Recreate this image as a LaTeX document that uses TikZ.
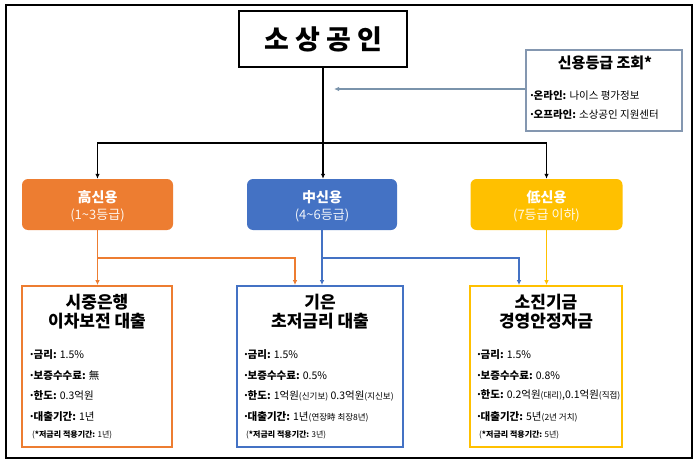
\documentclass[tikz,border=0pt]{standalone}
\usepackage{fontspec}
\setmainfont{Noto Sans CJK KR}
\usetikzlibrary{arrows.meta,calc}
\definecolor{cOr}{HTML}{ED7D31}
\definecolor{cBl}{HTML}{4472C4}
\definecolor{cYe}{HTML}{FFC000}
\definecolor{cGr}{HTML}{8497B0}
\definecolor{cAr}{HTML}{7A93AB}
\newcommand\tdot{\makebox[3.5pt][c]{·}}
\newcommand\itemlab[2]{{\bfseries\tdot#1:} #2}
\newcommand\sm[1]{{\fontsize{8.5}{9}\selectfont #1}}
\begin{document}
\begin{tikzpicture}[x=1pt,y=-1pt,
  tip/.style={-{Latex[length=5pt,width=4.5pt]}},
  blk/.style={line width=1.4pt},
  tier/.style={rounded corners=6pt, minimum height=51pt, inner sep=0pt, text=white, align=center},
  prog/.style={draw, line width=1.8pt, minimum height=161pt, inner sep=0pt},
  ptitle/.style={inner sep=0pt, align=center, font=\fontsize{17}{21}\selectfont\bfseries},
  txt/.style={anchor=west, inner sep=0pt, font=\fontsize{10.5}{12}\selectfont},
  note/.style={anchor=west, inner sep=0pt, font=\fontsize{8}{9}\selectfont}
]
\useasboundingbox (0,0) rectangle (700,465);
\fill[white] (0,0) rectangle (700,465);
\draw[line width=1.5pt] (6,5) rectangle (692,458);
\draw[line width=2.5pt] (6,458) -- (692,458) -- (692,6);

% title
\node[draw, line width=1.5pt, minimum width=168pt, minimum height=56pt, inner sep=0pt,
      font=\fontsize{27}{30}\selectfont\bfseries] (title) at (323,39) {소 상 공 인};

% credit lookup box
\node[draw=cGr, line width=1.5pt, minimum width=156pt, minimum height=81pt, inner sep=0pt] (credit) at (604,90.5) {};
\node[inner sep=0pt, font=\fontsize{15}{17}\selectfont\bfseries] (credT) at (605,63) {신용등급 조회*};
\node[txt] (credA) at (530,96) {\itemlab{온라인}{나이스 평가정보}};
\node[txt] (credB) at (530,115) {\itemlab{오프라인}{소상공인 지원센터}};
\coordinate (credTip) at (334,89);
\draw[cAr, line width=1.4pt, tip] (credit.west |- credTip) -- (credTip);

% tiers
\node[tier, fill=cOr, minimum width=151pt] (hi) at (97.5,204.5) {};
\node[inner sep=0pt, text=white, font=\fontsize{14}{16}\selectfont\bfseries] (hiA) at (97.5,197) {高신용};
\node[inner sep=0pt, text=white!92!cOr, font=\fontsize{13}{15}\selectfont] (hiB) at (97.5,215) {(1\textasciitilde3등급)};

\node[tier, fill=cBl, minimum width=150pt] (mid) at (322,204.5) {};
\node[inner sep=0pt, text=white, font=\fontsize{14}{16}\selectfont\bfseries] (midA) at (322,197) {中신용};
\node[inner sep=0pt, text=white!92!cBl, font=\fontsize{13}{15}\selectfont] (midB) at (322,215) {(4\textasciitilde6등급)};

\node[tier, fill=cYe, minimum width=152pt] (lo) at (546.5,204.5) {};
\node[inner sep=0pt, text=white, font=\fontsize{14}{16}\selectfont\bfseries] (loA) at (546.5,197) {低신용};
\node[inner sep=0pt, text=white!92!cYe, font=\fontsize{13}{15}\selectfont] (loB) at (546.5,215) {(7등급 이하)};

% black connectors
\coordinate (hub) at (323,143);
\draw[blk] (title.south) -- (hub);
\draw[blk, tip] (hub) -| (hi.north);
\draw[blk, tip] (hub) -- (hub |- mid.north);
\draw[blk, tip] (hub) -| (lo.north);

% program boxes
\node[prog, draw=cOr, minimum width=150pt] (p1) at (97,366.5) {};
\node[prog, draw=cBl, minimum width=166pt] (p2) at (320,366.5) {};
\node[prog, draw=cYe, minimum width=152pt] (p3) at (546,366.5) {};

% tier -> program connectors
\coordinate (oj) at (97.5,258);
\coordinate (bj) at (322,258);
\draw[cOr, line width=1.4pt, tip] (hi.south) -- (hi.south |- p1.north);
\draw[cOr, line width=1.4pt, tip] (oj) -| ([xshift=-25pt]p2.north);
\draw[cBl, line width=1.4pt, tip] (mid.south) -- (mid.south |- p2.north);
\draw[cBl, line width=1.4pt, tip] (bj) -| ([xshift=-27pt]p3.north);
\draw[cYe, line width=1.4pt, tip] (lo.south) -- (lo.south |- p3.north);

% program 1
\node[ptitle] (p1t) at (97,312) {시중은행\\[-2pt]이차보전 대출};
\node[txt] (p1a) at (30,355) {\itemlab{금리}{1.5\%}};
\node[txt] (p1b) at (30,375.5) {\itemlab{보증수수료}{無}};
\node[txt] (p1c) at (30,395.5) {\itemlab{한도}{0.3억원}};
\node[txt] (p1d) at (30,416.5) {\itemlab{대출기간}{1년}};
\node[note] (p1e) at (32,435) {({\bfseries *저금리 적용기간:} 1년)};

% program 2
\node[ptitle] (p2t) at (320,312) {기은\\[-2pt]초저금리 대출};
\node[txt] (p2a) at (244,355) {\itemlab{금리}{1.5\%}};
\node[txt] (p2b) at (244,375.5) {\itemlab{보증수수료}{0.5\%}};
\node[txt] (p2c) at (244,395.5) {\itemlab{한도}{1억원\sm{(신기보)} 0.3억원\sm{(지신보)}}};
\node[txt] (p2d) at (244,416.5) {\itemlab{대출기간}{1년\sm{(연장時 최장8년)}}};
\node[note] (p2e) at (246,435) {({\bfseries *저금리 적용기간:} 3년)};

% program 3
\node[ptitle] (p3t) at (546,312) {소진기금\\[-2pt]경영안정자금};
\node[txt] (p3a) at (477,355) {\itemlab{금리}{1.5\%}};
\node[txt] (p3b) at (477,375.5) {\itemlab{보증수수료}{0.8\%}};
\node[txt] (p3c) at (477,395.5) {\itemlab{한도}{0.2억원\sm{(대리)},0.1억원\sm{(직접)}}};
\node[txt] (p3d) at (477,416.5) {\itemlab{대출기간}{5년\sm{(2년 거치)}}};
\node[note] (p3e) at (479,435) {({\bfseries *저금리 적용기간:} 5년)};
\end{tikzpicture}
\end{document}
